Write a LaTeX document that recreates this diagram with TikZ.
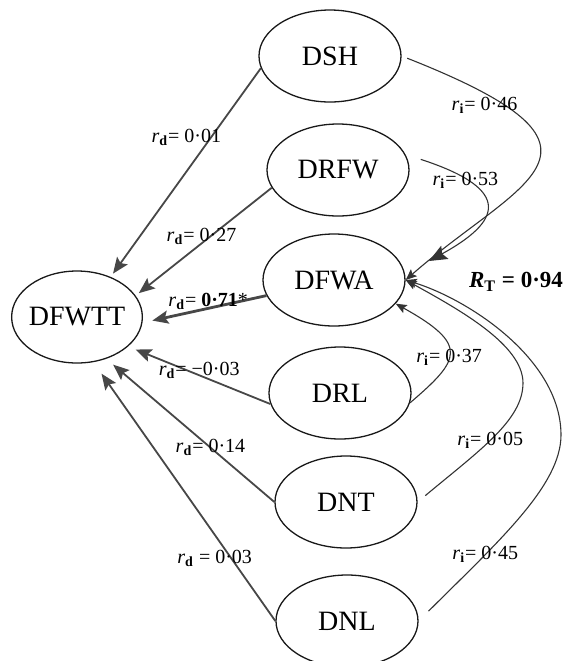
\documentclass[tikz,border=0pt]{standalone}
\usepackage{fontspec}
\setmainfont{Liberation Serif}
\usetikzlibrary{shapes.geometric,arrows.meta}

\newcommand{\rdir}{\textit{r}\textsubscript{\textbf{d}}}
\newcommand{\rind}{\textit{r}\textsubscript{\textbf{i}}}

\begin{document}
\begin{tikzpicture}[
    x=0.5pt, y=-0.5pt,
    factor/.style={ellipse,draw=black!90,line width=0.65pt,inner sep=0pt,minimum width=71pt,minimum height=46pt,font=\fontsize{14}{16}\selectfont},
    direct/.style={draw=black!72,line width=0.9pt,>={Stealth[length=8pt,width=6.5pt,inset=1.5pt]}},
    indirect/.style={draw=black!80,line width=0.55pt,>={Stealth[length=5.5pt,width=4.5pt,inset=1pt]}},
    coef/.style={font=\fontsize{10}{12}\selectfont,inner sep=0pt}
    ]
    \useasboundingbox (0, 0) rectangle (563, 661);

    \node (dsh) at (330, 56) [factor] {DSH};
    \node (drfw) at (338, 170) [factor] {DRFW};
    \node (dfwa) at (334, 280) [factor] {DFWA};
    \node (drl) at (340, 393) [factor] {DRL};
    \node (dnt) at (346, 502) [factor] {DNT};
    \node (dnl) at (347, 621) [factor] {DNL};
    \node (dfwtt) at (77, 317) [factor, minimum width=64pt, inner xsep=-1pt] {DFWTT};
    \coordinate (meet) at (429, 261);
    \node (rt) at (516, 282) [font=\fontsize{11.5}{13}\selectfont\bfseries] {\textit{R}\textsubscript{T} = 0·94};

    % direct paths
    \draw [direct, ->, shorten >=2pt] (dsh.190) to node [coef, pos=.33, xshift=-12.5pt] (d1) {\rdir= 0·01} (dfwtt.50);
    \draw [direct, ->, shorten >=2pt] (drfw.195) to node [coef, pos=.45, xshift=-4.5pt] (d2) {\rdir= 0·27} (dfwtt.20);
    \draw [direct, ->, line width=1.4pt, shorten >=5pt] (dfwa.193) to node [coef, pos=.47, yshift=3.5pt] (d3) {\rdir= \textbf{0·71}*} (dfwtt.355);
    \draw [direct, ->, shorten >=4pt] (drl.189) to node [coef, pos=.5, yshift=2.5pt] (d4) {\rdir= −0·03} (dfwtt.330);
    \draw [direct, ->, shorten >=4.5pt] (dnt.180) to node [coef, pos=.38] (d5) {\rdir= 0·14} (dfwtt.305);
    \draw [direct, ->, shorten >=7pt] (dnl.180) to node [coef, pos=.24, xshift=-8.5pt] (d6) {\rdir\ = 0·03} (dfwtt.290);

    % indirect paths through DFWA
    \draw [indirect, ->, shorten <=3pt] (dsh.east) .. controls (640, 150) and (520, 180) .. node [coef, pos=.2, xshift=-10pt] (i1) {\rind= 0·46} (dfwa.east);
    \draw [indirect, ->, >={Stealth[length=9pt,width=7.5pt,inset=1.5pt]}, shorten <=8pt] (drfw.13) .. controls (515, 190) and (500, 222) .. node [coef, pos=.25] (i2) {\rind= 0·53} (meet);
    \draw [indirect, ->] (drl.352) .. controls (460, 360) and (470, 345) .. node [coef, pos=.45] (i3) {\rind= 0·37} (dfwa.339);
    \draw [indirect, ->, shorten <=5pt] (dnt.east) .. controls (480, 450) and (523, 420) .. node [coef, pos=.47] (i4) {\rind= 0·05} (523, 383) .. controls (523, 345) and (460, 310) .. (dfwa.east);
    \draw [indirect, ->, shorten <=7pt] (dnl.east) .. controls (500, 540) and (561, 485) .. node [coef, pos=.3] (i5) {\rind= 0·45} (561, 435) .. controls (561, 360) and (470, 300) .. (dfwa.east);
\end{tikzpicture}
\end{document}
